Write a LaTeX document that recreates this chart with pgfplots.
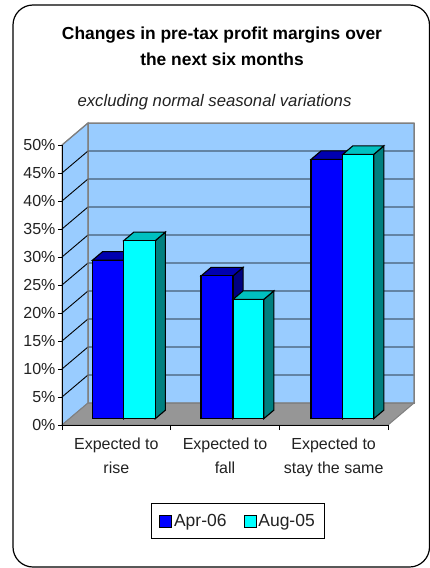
\documentclass[border=0pt]{standalone}
\usepackage{pgfplots}
\pgfplotsset{compat=1.18}
\usepackage{fontspec}
\setmainfont{Liberation Sans}
\definecolor{wallc}{HTML}{99CCFF}
\definecolor{floorc}{HTML}{969696}
\definecolor{wallb}{HTML}{808080}
\definecolor{blueF}{HTML}{0000FF}
\definecolor{blueT}{HTML}{0000B0}
\definecolor{blueS}{HTML}{000080}
\definecolor{cyanF}{HTML}{00FFFF}
\definecolor{cyanT}{HTML}{00C0C0}
\definecolor{cyanS}{HTML}{008080}
\definecolor{txt}{HTML}{222222}
% one 3D bar: x-left, x-right, value, front, top, side colours
\newcommand\threedbar[6]{%
  \addplot3[no marks,fill=#6,draw=black,line width=1.1pt] coordinates {(#2,0.286,0) (#2,0.676,0) (#2,0.676,#3) (#2,0.286,#3)} --cycle;
  \addplot3[no marks,fill=#5,draw=black,line width=1.1pt] coordinates {(#1,0.286,#3) (#2,0.286,#3) (#2,0.676,#3) (#1,0.676,#3)} --cycle;
  \addplot3[no marks,fill=#4,draw=black,line width=1.1pt] coordinates {(#1,0.286,0) (#2,0.286,0) (#2,0.286,#3) (#1,0.286,#3)} --cycle;
}
\newcommand\gridz[1]{%
  \addplot3[no marks,black,line width=0.9pt] coordinates {(0,0,#1) (0,1,#1) (3,1,#1)};
}
\begin{document}
\begin{tikzpicture}[x=1pt,y=1pt]
\useasboundingbox (0,0) rectangle (430,-568);
\draw[black,line width=1.2pt,rounded corners=20pt,fill=white] (13,-5) rectangle (429.5,-567);
\node[font=\fontsize{17.4}{26}\selectfont\bfseries,align=center,text=black] at (222,-46) {Changes in pre-tax profit margins over\\the next six months};
\node[font=\fontsize{16.7}{18}\selectfont\itshape,text=txt] at (214.5,-102) {excluding normal seasonal variations};
\begin{axis}[
  at={(62pt,-425pt)},anchor=south west,
  x={(108.67pt,0pt)},y={(26pt,22pt)},z={(0pt,5.6pt)},
  xmin=0,xmax=3,ymin=0,ymax=1,zmin=0,zmax=50,
  hide axis,clip=false]
% walls and floor
\addplot3[no marks,fill=wallc,draw=wallb,line width=1pt] coordinates {(0,1,0) (3,1,0) (3,1,50) (0,1,50)} --cycle;
\addplot3[no marks,fill=wallc,draw=wallb,line width=1pt] coordinates {(0,0,0) (0,1,0) (0,1,50) (0,0,50)} --cycle;
\addplot3[no marks,fill=floorc,draw=wallb,line width=1pt] coordinates {(0,0,0) (3,0,0) (3,1,0) (0,1,0)} --cycle;
\gridz{5}\gridz{10}\gridz{15}\gridz{20}\gridz{25}\gridz{30}\gridz{35}\gridz{40}\gridz{45}
\addplot3[no marks,draw=wallb,line width=1.2pt] coordinates {(0,0,50) (0,1,50) (3,1,50) (3,1,0) (0,1,0) (0,1,50)};
% bars: Apr-06 then Aug-05
\threedbar{0.212}{0.500}{28.3}{blueF}{blueT}{blueS}
\threedbar{0.500}{0.790}{31.8}{cyanF}{cyanT}{cyanS}
\threedbar{1.211}{1.505}{25.5}{blueF}{blueT}{blueS}
\threedbar{1.505}{1.788}{21.3}{cyanF}{cyanT}{cyanS}
\threedbar{2.223}{2.515}{46.3}{blueF}{blueT}{blueS}
\threedbar{2.515}{2.800}{47.2}{cyanF}{cyanT}{cyanS}
\end{axis}
\begin{axis}[
  at={(62pt,-425pt)},anchor=south west,
  width=326pt,height=280pt,scale only axis,
  xmin=0,xmax=3,ymin=0,ymax=50,
  axis x line*=bottom,axis y line*=left,
  axis line style={-,black,line width=1pt},
  xtick={0.5,1.5,2.5},
  xticklabels={{Expected to\\rise},{Expected to\\fall},{Expected to\\stay the same}},
  minor xtick={0,1,2,3},
  ytick={0,5,...,50},
  yticklabel={\pgfmathprintnumber{\tick}\%},
  /pgf/number format/assume math mode=true,
  major x tick style={draw=none},
  minor tick length=5pt,
  major tick length=4pt,
  every tick/.style={black,line width=0.8pt},
  tick align=outside,
  x tick label style={align=center,yshift=-5pt,font=\fontsize{16}{24}\selectfont,text=txt},
  y tick label style={font=\fontsize{16}{18}\selectfont,text=txt,xshift=1pt},
  legend columns=2,
  legend style={at={(176pt,-96pt)},anchor=center,draw=black,line width=0.8pt,
    font=\fontsize{17.5}{20}\selectfont,text=txt,
    inner xsep=8pt,inner ysep=9pt,
    /tikz/every even column/.append style={column sep=15pt}},
  legend image code/.code={\draw[#1,draw=black,line width=0.8pt] (-2pt,-6pt) rectangle (10pt,6pt);},
]
\addlegendimage{fill=blueF}
\addlegendentry{Apr-06}
\addlegendimage{fill=cyanF}
\addlegendentry{Aug-05}
\end{axis}
\end{tikzpicture}
\end{document}
